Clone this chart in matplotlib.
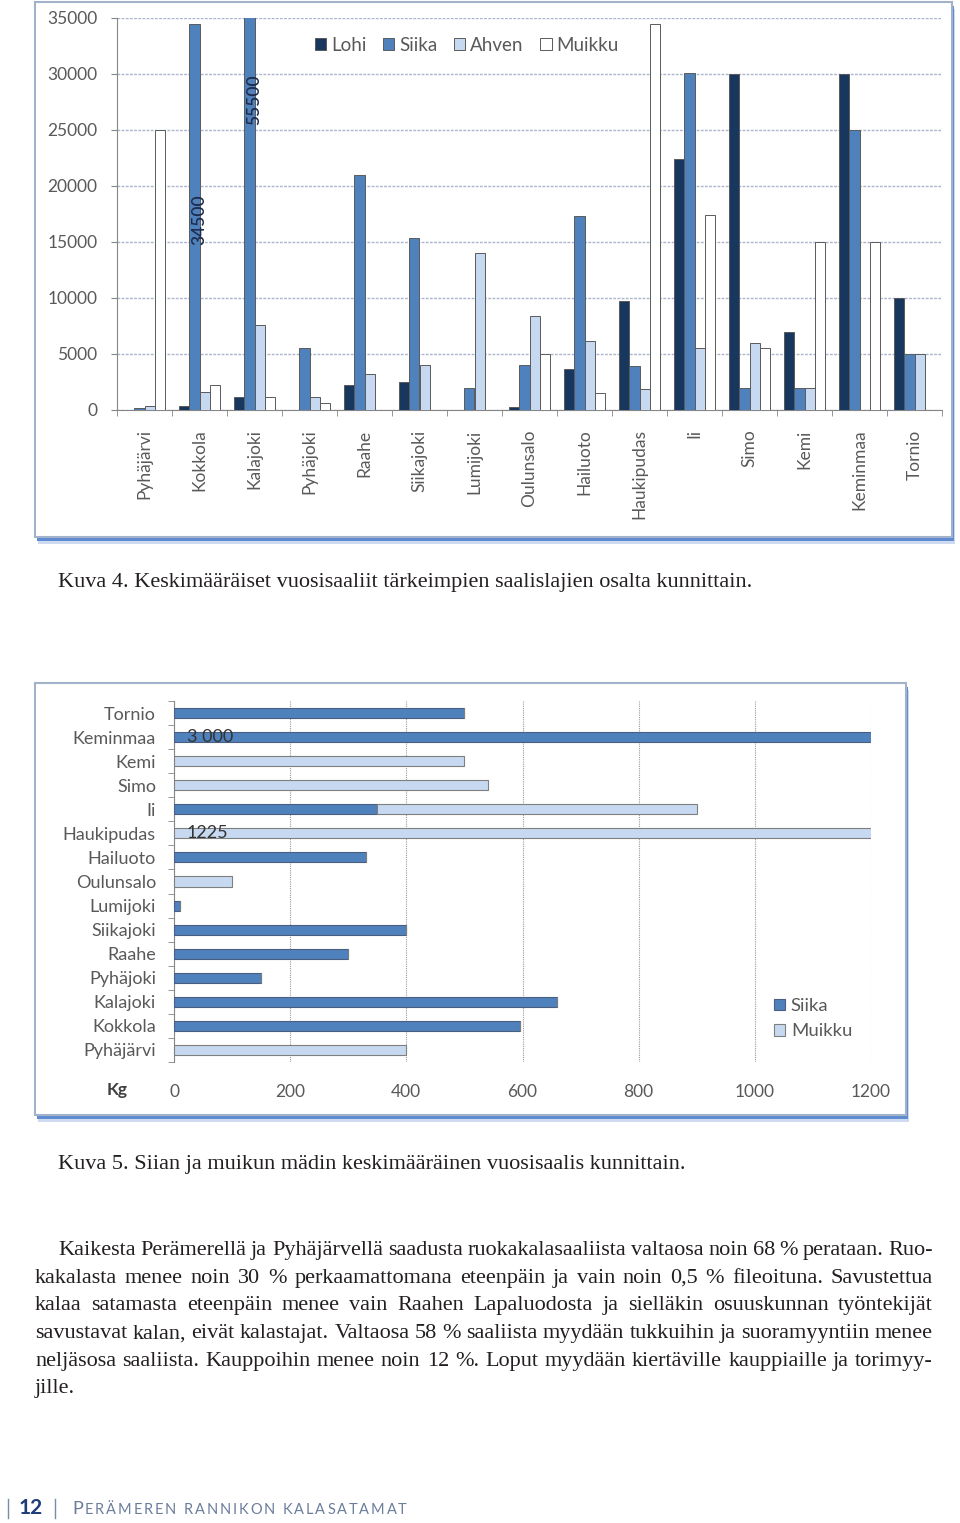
import matplotlib
matplotlib.use("Agg")
import matplotlib.pyplot as plt
from matplotlib.patches import Rectangle
import numpy as np

W, H = 960, 1523

# Kuva 4: keskimääräiset vuosisaaliit (kg)
kunnat = ["Pyhäjärvi", "Kokkola", "Kalajoki", "Pyhäjoki", "Raahe", "Siikajoki", "Lumijoki",
          "Oulunsalo", "Hailuoto", "Haukipudas", "Ii", "Simo", "Kemi", "Keminmaa", "Tornio"]
lohi = [0, 340, 1150, 0, 2200, 2500, 0, 250, 3700, 9700, 22400, 30000, 7000, 30000, 10000]
siika = [150, 34500, 55500, 5500, 21000, 15400, 1950, 4000, 17300, 3900, 30100, 2000, 2000, 25000, 5000]
ahven = [400, 1600, 7600, 1200, 3200, 4000, 14000, 8400, 6200, 1900, 5500, 6000, 2000, 0, 5000]
muikku = [25000, 2200, 1200, 650, 0, 0, 0, 5000, 1500, 34500, 17400, 5500, 15000, 15000, 0]
lajit = ["Lohi", "Siika", "Ahven", "Muikku"]

# Kuva 5: mädin keskimääräinen vuosisaalis (kg), pinottu
mati_kunnat = kunnat
mati_siika = [0, 595, 660, 150, 300, 400, 10, 0, 330, 0, 350, 0, 0, 3000, 500]
mati_muikku = [400, 0, 0, 0, 0, 0, 0, 100, 0, 1225, 550, 540, 500, 0, 0]

teksti = [
    "Kaikesta Perämerellä ja Pyhäjärvellä saadusta ruokakalasaaliista valtaosa noin 68 % perataan. Ruo-",
    "kakalasta menee noin 30 % perkaamattomana eteenpäin ja vain noin 0,5 % fileoituna. Savustettua",
    "kalaa satamasta eteenpäin menee vain Raahen Lapaluodosta ja sielläkin osuuskunnan työntekijät",
    "savustavat kalan, eivät kalastajat. Valtaosa 58 % saaliista myydään tukkuihin ja suoramyyntiin menee",
    "neljäsosa saaliista. Kauppoihin menee noin 12 %. Loput myydään kiertäville kauppiaille ja torimyy-",
    "jille.",
]

GRAY = "#595959"
SANS = "Lato"
SERIF = "Liberation Serif"


def rect(x0, y0, x1, y1):
    return [x0 / W, 1 - y1 / H, (x1 - x0) / W, (y1 - y0) / H]


fig = plt.figure(figsize=(W / 100, H / 100), dpi=100)
fig.patch.set_facecolor("white")

# page layer (pixel coordinates)
page = fig.add_axes([0, 0, 1, 1])
page.set_xlim(0, W)
page.set_ylim(H, 0)
page.axis("off")
page.set_zorder(0)


def frame(x0, y0, x1, y1):
    page.add_patch(Rectangle((x0 + 3, y0 + 7), x1 - x0, y1 - y0, fc="#9cb6e0", ec="none", alpha=0.5))
    page.add_patch(Rectangle((x0 + 2, y0 + 4), x1 - x0, y1 - y0, fc="#5f8bd0", ec="none"))
    page.add_patch(Rectangle((x0, y0), x1 - x0, y1 - y0, fc="white", ec="#a3b2cb", lw=1.5))


frame(35, 2, 952, 537)
frame(35, 683, 906, 1115)

# ---- Kuva 4 ----
ax1 = fig.add_axes(rect(117, 18, 942, 410))
ax1.set_zorder(1)
ax1.patch.set_alpha(0)
x = np.arange(len(kunnat))
w = 0.185
colors = ["#17375e", "#4f81bd", "#c6d9f1", "white"]
for i, (vals, lab) in enumerate(zip([lohi, siika, ahven, muikku], lajit)):
    ax1.bar(x + (i - 1.5) * w, vals, w, color=colors[i], edgecolor="#5a5a5a", linewidth=0.7,
            label=lab, zorder=3)
ax1.set_xlim(-0.5, len(kunnat) - 0.5)
ax1.set_ylim(0, 35000)
ax1.set_yticks(np.arange(0, 35001, 5000))
ax1.set_xticks(x)
ax1.set_xticklabels(kunnat, rotation=90, va="top", ha="center")
ax1.set_xticks(np.arange(-0.5, len(kunnat), 1), minor=True)
ax1.tick_params(axis="x", which="major", length=0, pad=14, labelsize=12.5, labelcolor=GRAY)
ax1.tick_params(axis="x", which="minor", length=4, color="#868686", direction="out")
ax1.tick_params(axis="y", length=4, color="#868686", pad=10, labelsize=12.5, labelcolor=GRAY)
for lab in ax1.get_xticklabels() + ax1.get_yticklabels():
    lab.set_fontfamily(SANS)
ax1.grid(axis="y", color="#a9b6cc", linestyle=(0, (2, 1)), linewidth=1, zorder=0)
for s in ["top", "right"]:
    ax1.spines[s].set_visible(False)
for s in ["left", "bottom"]:
    ax1.spines[s].set_color("#868686")
ax1.text(1, 17000, "34500", rotation=90, ha="center", va="center", fontsize=12.5,
         color="#1f2d4d", family=SANS, fontweight="semibold", zorder=4)
ax1.text(2, 27700, "55500", rotation=90, ha="center", va="center", fontsize=12.5,
         color="#1f2d4d", family=SANS, fontweight="semibold", zorder=4)
leg = ax1.legend(ncol=4, loc="center", bbox_to_anchor=(0.424, 0.931), frameon=False,
                 handlelength=0.6, handleheight=0.6, handletextpad=0.25, columnspacing=0.9,
                 prop={"family": SANS, "size": 13.5}, labelcolor=GRAY)

# ---- Kuva 5 ----
ax2 = fig.add_axes(rect(174, 701, 871, 1062))
ax2.set_zorder(1)
ax2.patch.set_alpha(0)
y = np.arange(len(mati_kunnat))
ax2.barh(y, mati_siika, 0.42, color="#4f81bd", edgecolor="#4a5f80", linewidth=0.8,
         label="Siika", zorder=3)
ax2.barh(y, mati_muikku, 0.42, left=mati_siika, color="#c6d9f1", edgecolor="#7f7f7f",
         linewidth=0.8, label="Muikku", zorder=3)
ax2.set_xlim(0, 1200)
ax2.set_ylim(-0.5, len(mati_kunnat) - 0.5)
ax2.set_xticks(np.arange(0, 1201, 200))
ax2.set_yticks(y)
ax2.set_yticklabels(mati_kunnat)
ax2.set_yticks(np.arange(-0.5, len(mati_kunnat), 1), minor=True)
ax2.tick_params(axis="y", which="major", length=0, pad=13, labelsize=13, labelcolor=GRAY)
ax2.tick_params(axis="y", which="minor", length=4.5, color="#868686")
ax2.tick_params(axis="x", length=0, pad=16, labelsize=12.5, labelcolor=GRAY)
for lab in ax2.get_xticklabels() + ax2.get_yticklabels():
    lab.set_fontfamily(SANS)
ax2.grid(axis="x", color="#9a9a9a", linestyle=(0, (1, 1)), linewidth=0.8, zorder=0)
for s in ["top", "right", "bottom"]:
    ax2.spines[s].set_visible(False)
ax2.spines["left"].set_color("#868686")
ax2.text(22, 13, "3 000", ha="left", va="center", fontsize=13, color="#333333", family=SANS, zorder=4)
ax2.text(22, 9, "1225", ha="left", va="center", fontsize=13, color="#333333", family=SANS, zorder=4)
ax2.legend(loc="center", bbox_to_anchor=(0.917, 0.12), frameon=False,
           handlelength=0.6, handleheight=0.6, handletextpad=0.3, labelspacing=0.5,
           prop={"family": SANS, "size": 13.3}, labelcolor=GRAY)
page.text(117, 1090, "Kg", ha="center", va="center", fontsize=12.5, fontweight="bold",
          color="#404040", family=SANS)

# ---- page text ----
renderer = fig.canvas.get_renderer()


def width(s, **kw):
    t = page.text(0, 0, s, **kw)
    wd = t.get_window_extent(renderer).width
    t.remove()
    return wd


body = dict(family=SERIF, fontsize=16, color="#231f20")
page.text(58, 587, "Kuva 4. Keskimääräiset vuosisaaliit tärkeimpien saalislajien osalta kunnittain.",
          ha="left", va="baseline", **body)
page.text(58, 1169, "Kuva 5. Siian ja muikun mädin keskimääräinen vuosisaalis kunnittain.",
          ha="left", va="baseline", **body)

for i, line in enumerate(teksti):
    base = 1255 + 27.7 * i
    x0 = 58 if i == 0 else 35
    if i == len(teksti) - 1:
        page.text(x0, base, line, ha="left", va="baseline", **body)
        continue
    words = line.split(" ")
    ws = [width(wd, **body) for wd in words]
    gap = (933 - x0 - sum(ws)) / (len(words) - 1)
    xx = x0
    for wd, ww in zip(words, ws):
        page.text(xx, base, wd, ha="left", va="baseline", **body)
        xx += ww + gap

# footer
page.plot([7.5, 7.5], [1499, 1518], color="#7a8aa8", lw=1)
page.plot([55, 55], [1499, 1518], color="#7a8aa8", lw=1)
page.text(31, 1514, "12", ha="center", va="baseline", fontsize=15, fontweight="bold",
          color="#1d3c78", family=SANS)
foot = "PERÄMEREN RANNIKON KALASATAMAT"
sizes = [13] + [10.5] * (len(foot) - 1)
fkw = dict(family=SANS, color="#6c7d9c")
cw = []
for ch, sz in zip(foot, sizes):
    if ch == " ":
        cw.append(width("a a", fontsize=sz, **fkw) - width("aa", fontsize=sz, **fkw))
    else:
        cw.append(width(ch, fontsize=sz, **fkw))
track = (407 - 72 - sum(cw)) / (len(foot) - 1)
xx = 72
for ch, sz, ww in zip(foot, sizes, cw):
    if ch != " ":
        page.text(xx, 1514, ch, ha="left", va="baseline", fontsize=sz, **fkw)
    xx += ww + track

fig.savefig("out.png", dpi=100)
